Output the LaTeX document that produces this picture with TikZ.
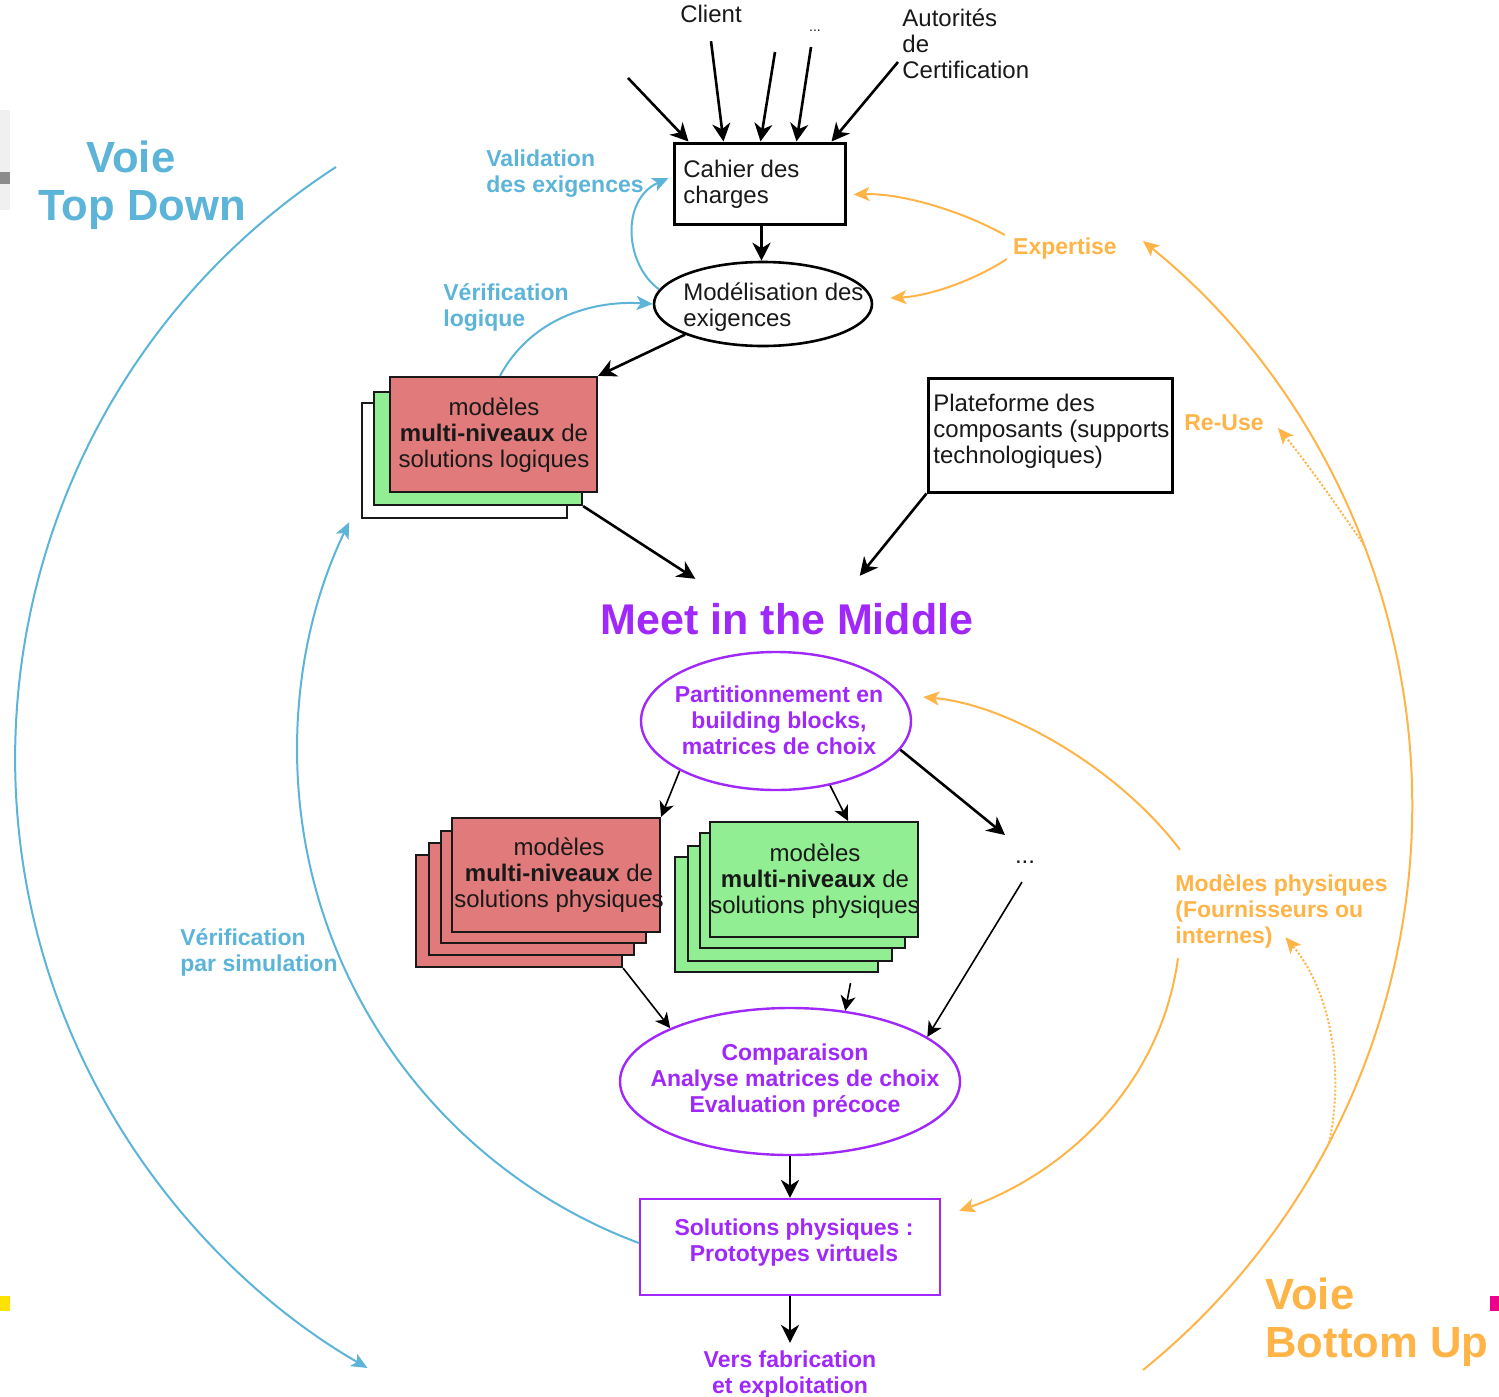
\documentclass[tikz,border=0pt]{standalone}
\usepackage{fontspec}
\setmainfont{Liberation Sans}
\usetikzlibrary{arrows.meta,shapes.geometric}
\definecolor{tdblue}{RGB}{92,180,216}
\definecolor{buorange}{RGB}{255,180,72}
\definecolor{mimpurple}{RGB}{160,40,250}
\definecolor{redfill}{RGB}{225,122,122}
\definecolor{greenfill}{RGB}{146,238,146}
\begin{document}
\begin{tikzpicture}[x=0.5pt,y=-0.5pt,
 body/.style={font=\fontsize{12}{13}\selectfont, inner sep=0pt, text=black!90},
 lbl/.style={font=\bfseries\fontsize{11.5}{13}\selectfont, inner sep=0pt},
 bigtxt/.style={font=\bfseries\fontsize{21.8}{24}\selectfont, inner sep=0pt},
 blackbox/.style={draw=black, line width=1.5pt, inner sep=0pt},
 stackbox/.style={draw=black!90, line width=1.1pt, inner sep=0pt},
 arr/.style={draw=black, line width=1.3pt, -{Stealth[length=9pt,width=9pt,inset=2.8pt]}},
 thinarr/.style={draw=black, line width=0.8pt, -{Stealth[length=7.5pt,width=7.5pt,inset=2.2pt]}},
 barr/.style={draw=tdblue, line width=1pt, -{Stealth[length=8pt,width=7pt,inset=2pt]}},
 oarr/.style={draw=buorange, line width=1pt, -{Stealth[length=8pt,width=7pt,inset=2pt]}},
]
\useasboundingbox (0,0) rectangle (1499,1397);
\fill[white] (0,0) rectangle (1499,1397);
% edge marks
\fill[black!6] (0,110) rectangle (10,210);
\fill[black!45] (0,172) rectangle (10,184);
\fill[yellow!85!orange] (0,1296) rectangle (10,1311);
\fill[magenta] (1490,1296) rectangle (1499,1311);

% top sources
\node[body] (client) at (711,14) {Client};
\node[body, font=\fontsize{7}{8}\selectfont] (more) at (815,31) {...};
\node[body, align=left, anchor=west] (auth) at (902,44) {Autorités\\de\\Certification};

% cahier des charges
\node[blackbox, minimum width=85.5pt, minimum height=40.5pt] (cahier) at (759.5,183.5) {};
\node[body, align=left, anchor=west] (cahiertxt) at (683,184) {Cahier des\\charges};

\coordinate (in1) at (628,78);
\coordinate (in3) at (775,52);
\coordinate (in4) at (811,47);
\draw[arr] (in1) -- ([xshift=8pt]cahier.north west);
\draw[arr] ([yshift=-9pt]client.south) -- ([xshift=25.5pt]cahier.north west);
\draw[arr] (in3) -- ([xshift=44pt]cahier.north west);
\draw[arr] (in4) -- ([xshift=62pt]cahier.north west);
\draw[arr] ([xshift=-2pt,yshift=-9pt]auth.west) -- ([xshift=79.5pt]cahier.north west);

% modelisation
\node[draw, ellipse, line width=1.3pt, minimum width=109pt, minimum height=42pt, inner sep=0pt] (modell) at (763,304) {};
\node[body, align=left, anchor=west] (modtxt) at (683,307) {Modélisation des\\exigences};
\draw[arr] ([xshift=1pt]cahier.south) -- ([xshift=-0.75pt]modell.north);

% blue labels
\node[lbl, text=tdblue, align=left, anchor=west] (valid) at (486,174) {Validation\\des exigences};
\node[lbl, text=tdblue, align=left, anchor=west] (verlog) at (443,307) {Vérification\\logique};
\node[lbl, text=tdblue, align=left, anchor=west] (versim) at (180,952) {Vérification\\par simulation};

% logical stack
\node[stackbox, fill=white, minimum width=102.5pt, minimum height=57.5pt] (logw) at (464.5,460.5) {};
\node[stackbox, fill=greenfill, minimum width=104pt, minimum height=56.5pt] (logg) at (478,448.5) {};
\node[stackbox, fill=redfill, minimum width=103.5pt, minimum height=57.5pt] (logr) at (493.5,434.5) {};
\node[body, align=center] (logtxt) at (494,435) {modèles\\\textbf{multi-niveaux} de\\solutions logiques};

\draw[barr] (modell.172) .. controls (625,265) and (620,200) .. ([xshift=-2pt,yshift=2.75pt]cahier.west);
\draw[barr] ([xshift=3.25pt]logr.north) .. controls (530,320) and (590,300) .. (modell.west);
\draw[arr] (modell.south west) -- (logr.north east);

% plateforme
\node[blackbox, minimum width=122pt, minimum height=57pt] (plat) at (1050,435) {};
\node[body, align=left, anchor=west] (plattxt) at (933,431) {Plateforme des\\composants (supports\\technologiques)};

% meet in the middle
\node[bigtxt, font=\bfseries\fontsize{21.5}{24}\selectfont, text=mimpurple] (meet) at (787,619) {Meet in the Middle};
\draw[arr] (logg.south east) -- ([xshift=47.5pt,yshift=12pt]meet.north west);
\draw[arr] (plat.south west) -- ([xshift=-57pt,yshift=13.5pt]meet.north east);

% partition
\node[draw=mimpurple, ellipse, line width=1.2pt, minimum width=135pt, minimum height=69pt, inner sep=0pt] (part) at (776,721) {};
\node[lbl, text=mimpurple, align=center] (parttxt) at (779,720) {Partitionnement en\\building blocks,\\matrices de choix};

% physical red stack
\node[stackbox, fill=redfill, minimum width=103pt, minimum height=56pt] (physr4) at (519,911) {};
\node[stackbox, fill=redfill, minimum width=102.5pt, minimum height=56pt] (physr3) at (531.5,899) {};
\node[stackbox, fill=redfill, minimum width=102.5pt, minimum height=56pt] (physr2) at (543.5,887) {};
\node[stackbox, fill=redfill, minimum width=104pt, minimum height=57pt] (physr1) at (556,875) {};
\node[body, align=center] (physrtxt) at (559,875) {modèles\\\textbf{multi-niveaux} de\\solutions physiques};

% physical green stack
\node[stackbox, fill=greenfill, minimum width=101.5pt, minimum height=57.5pt] (physg4) at (776.5,914.5) {};
\node[stackbox, fill=greenfill, minimum width=102pt, minimum height=57.5pt] (physg3) at (790,903.5) {};
\node[stackbox, fill=greenfill, minimum width=102.5pt, minimum height=57.5pt] (physg2) at (802.5,890.5) {};
\node[stackbox, fill=greenfill, minimum width=104pt, minimum height=57.5pt] (physg1) at (814,879.5) {};
\node[body, align=center] (physgtxt) at (815,881) {modèles\\\textbf{multi-niveaux} de\\solutions physiques};

\node[body] (dots) at (1025,862) {...};

\draw[thinarr] (part.south west) -- (physr1.north east);
\draw[thinarr] (part.-50) -- ([xshift=17pt]physg1.north);
\draw[arr] (part.-13) -- ([xshift=-10pt,yshift=13.5pt]dots.center);

% comparaison
\node[draw=mimpurple, ellipse, line width=1.2pt, minimum width=170pt, minimum height=73.5pt, inner sep=0pt] (comp) at (790,1081.5) {};
\node[lbl, text=mimpurple, align=center] (comptxt) at (795,1081) {Comparaison\\Analyse matrices de choix\\Evaluation précoce};

\draw[thinarr] ([xshift=-1.5pt,yshift=-10pt]dots.center) -- (comp.18);
\draw[thinarr] (physr4.south east) -- (comp.156);
\draw[thinarr] ([xshift=37pt,yshift=-5pt]physg4.south) -- (comp.52);

% solutions
\node[draw=mimpurple, line width=1.1pt, minimum width=150pt, minimum height=48pt, inner sep=0pt] (sol) at (790,1247) {};
\node[lbl, text=mimpurple, align=center] (soltxt) at (794,1243) {Solutions physiques :\\Prototypes virtuels};
\draw[arr] (comp.south) -- (sol.north);
\node[lbl, text=mimpurple, align=center] (vers) at (790,1375) {Vers fabrication\\et exploitation};
\draw[arr] (sol.south) -- ([yshift=4pt]vers.north);

% big blue paths
\coordinate (td0) at (336,167);
\draw[barr] (td0) arc[start angle=237, end angle=120, radius=704.5];
\draw[barr] ([yshift=2pt]sol.west) arc[start angle=110.5, end angle=205.7, radius=526];

% titles
\node[bigtxt, text=tdblue, align=left, anchor=west] (vtd) at (38,185) {\hspace*{24pt}Voie\\Top Down};
\node[bigtxt, text=buorange, align=left, anchor=west] (vbu) at (1265,1322) {Voie\\Bottom Up};

% orange
\node[lbl, text=buorange] (exp) at (1065,249) {Expertise};
\draw[oarr] ([xshift=-4pt,yshift=7pt]exp.west) .. controls (960,210) and (900,193) .. ([xshift=3.5pt,yshift=-5.5pt]cahier.east);
\draw[oarr] ([xshift=-3pt,yshift=-5pt]exp.west) .. controls (975,280) and (930,296) .. ([xshift=8.5pt,yshift=3pt]modell.east);

\coordinate (bu0) at (1143,1370);
\draw[oarr] (bu0) arc[start angle=51, end angle=-51, radius=726.4];
\path (bu0) arc[start angle=51, end angle=-21, radius=726.4] coordinate (ru0);
\path (bu0) arc[start angle=51, end angle=27.7, radius=726.4] coordinate (mp0);

\node[lbl, text=buorange] (reuse) at (1224,423) {Re-Use};
\draw[oarr, densely dotted] (ru0) .. controls (1340,510) and (1305,460) .. ([xshift=7pt,yshift=-2.5pt]reuse.east);

\node[lbl, text=buorange, align=left, anchor=west] (modphys) at (1175,911) {Modèles physiques\\(Fournisseurs ou\\internes)};
\draw[oarr, densely dotted] (mp0) .. controls (1345,1070) and (1330,990) .. ([xshift=2pt,yshift=5.5pt]modphys.south);
\draw[oarr] ([xshift=2.5pt,yshift=12pt]modphys.north west) .. controls (1120,770) and (1010,705) .. ([xshift=5.5pt,yshift=12pt]part.east);
\draw[oarr] ([xshift=1.5pt,yshift=-5pt]modphys.south west) .. controls (1160,1090) and (1060,1175) .. ([xshift=9pt,yshift=-6.5pt]sol.north east);
\end{tikzpicture}
\end{document}
